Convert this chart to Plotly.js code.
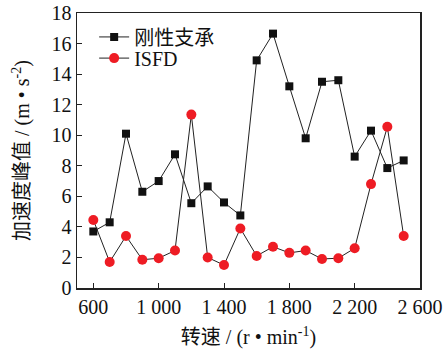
<!DOCTYPE html>
<html>
<head>
<meta charset="utf-8">
<script src="https://cdn.plot.ly/plotly-3.0.1.min.js"></script>
<style>html,body{margin:0;padding:0;background:#fff;}#chart{width:444px;height:349px;}</style>
</head>
<body>
<div id="chart"></div>
<script>
// Rotational speed (r/min)
const speed = [600, 700, 800, 900, 1000, 1100, 1200, 1300, 1400, 1500,
               1600, 1700, 1800, 1900, 2000, 2100, 2200, 2300, 2400, 2500];
// Peak acceleration, rigid support (m/s^2)
const rigid = [3.7, 4.3, 10.1, 6.3, 7.0, 8.75, 5.55, 6.65, 5.6, 4.75,
               14.9, 16.65, 13.2, 9.8, 13.5, 13.6, 8.6, 10.3, 7.85, 8.35];
// Peak acceleration, ISFD (m/s^2)
const isfd = [4.45, 1.7, 3.4, 1.85, 1.95, 2.45, 11.35, 2.0, 1.5, 3.9,
              2.1, 2.7, 2.3, 2.45, 1.9, 1.95, 2.6, 6.8, 10.55, 3.4];
const xTickVals = [600, 1000, 1400, 1800, 2200, 2600];
const xTickText = ['600', '1 000', '1 400', '1 800', '2 200', '2 600'];
const yTickVals = [0, 2, 4, 6, 8, 10, 12, 14, 16, 18];

const FONT = '"Times New Roman", "Liberation Serif", "Noto Sans CJK SC", serif';

const traces = [
  {
    x: speed, y: rigid, name: '刚性支承', type: 'scatter', mode: 'lines+markers',
    legend: 'legend',
    line: {color: '#222', width: 1},
    marker: {symbol: 'square', size: 8, color: '#111'}
  },
  {
    x: speed, y: isfd, name: 'ISFD', type: 'scatter', mode: 'lines+markers',
    legend: 'legend2',
    line: {color: '#222', width: 1},
    marker: {symbol: 'circle', size: 10, color: '#ee1c24'}
  }
];

const axisCommon = {
  showline: true, linecolor: '#222', linewidth: 1.5, mirror: true,
  ticks: 'inside', ticklen: 5, tickwidth: 1, tickcolor: '#222',
  showgrid: false, zeroline: false,
  tickfont: {family: FONT, size: 20, color: '#111'}
};

const legendCommon = {
  xanchor: 'left', yanchor: 'middle', x: 0.05,
  bgcolor: 'rgba(0,0,0,0)', font: {family: FONT, size: 20, color: '#111'},
  itemwidth: 30
};

const layout = {
  width: 444, height: 349,
  margin: {l: 77, r: 24, t: 13, b: 61},
  paper_bgcolor: '#fff', plot_bgcolor: '#fff',
  font: {family: FONT, color: '#111'},
  showlegend: true,
  legend: Object.assign({}, legendCommon, {y: 0.913}),
  legend2: Object.assign({}, legendCommon, {y: 0.836}),
  xaxis: Object.assign({}, axisCommon, {
    range: [500, 2600], tickmode: 'array', tickvals: xTickVals, ticktext: xTickText,
    title: {text: '转速 / (r • min<sup>-1</sup>)', font: {family: FONT, size: 20, color: '#111'}, standoff: 21}
  }),
  yaxis: Object.assign({}, axisCommon, {
    range: [0, 18], tickmode: 'array', tickvals: yTickVals,
    title: {text: '加速度峰值 / (m • s<sup>-2</sup>)', font: {family: FONT, size: 20, color: '#111'}, standoff: 16}
  })
};

Plotly.newPlot('chart', traces, layout, {displayModeBar: false, staticPlot: true});
</script>
</body>
</html>
